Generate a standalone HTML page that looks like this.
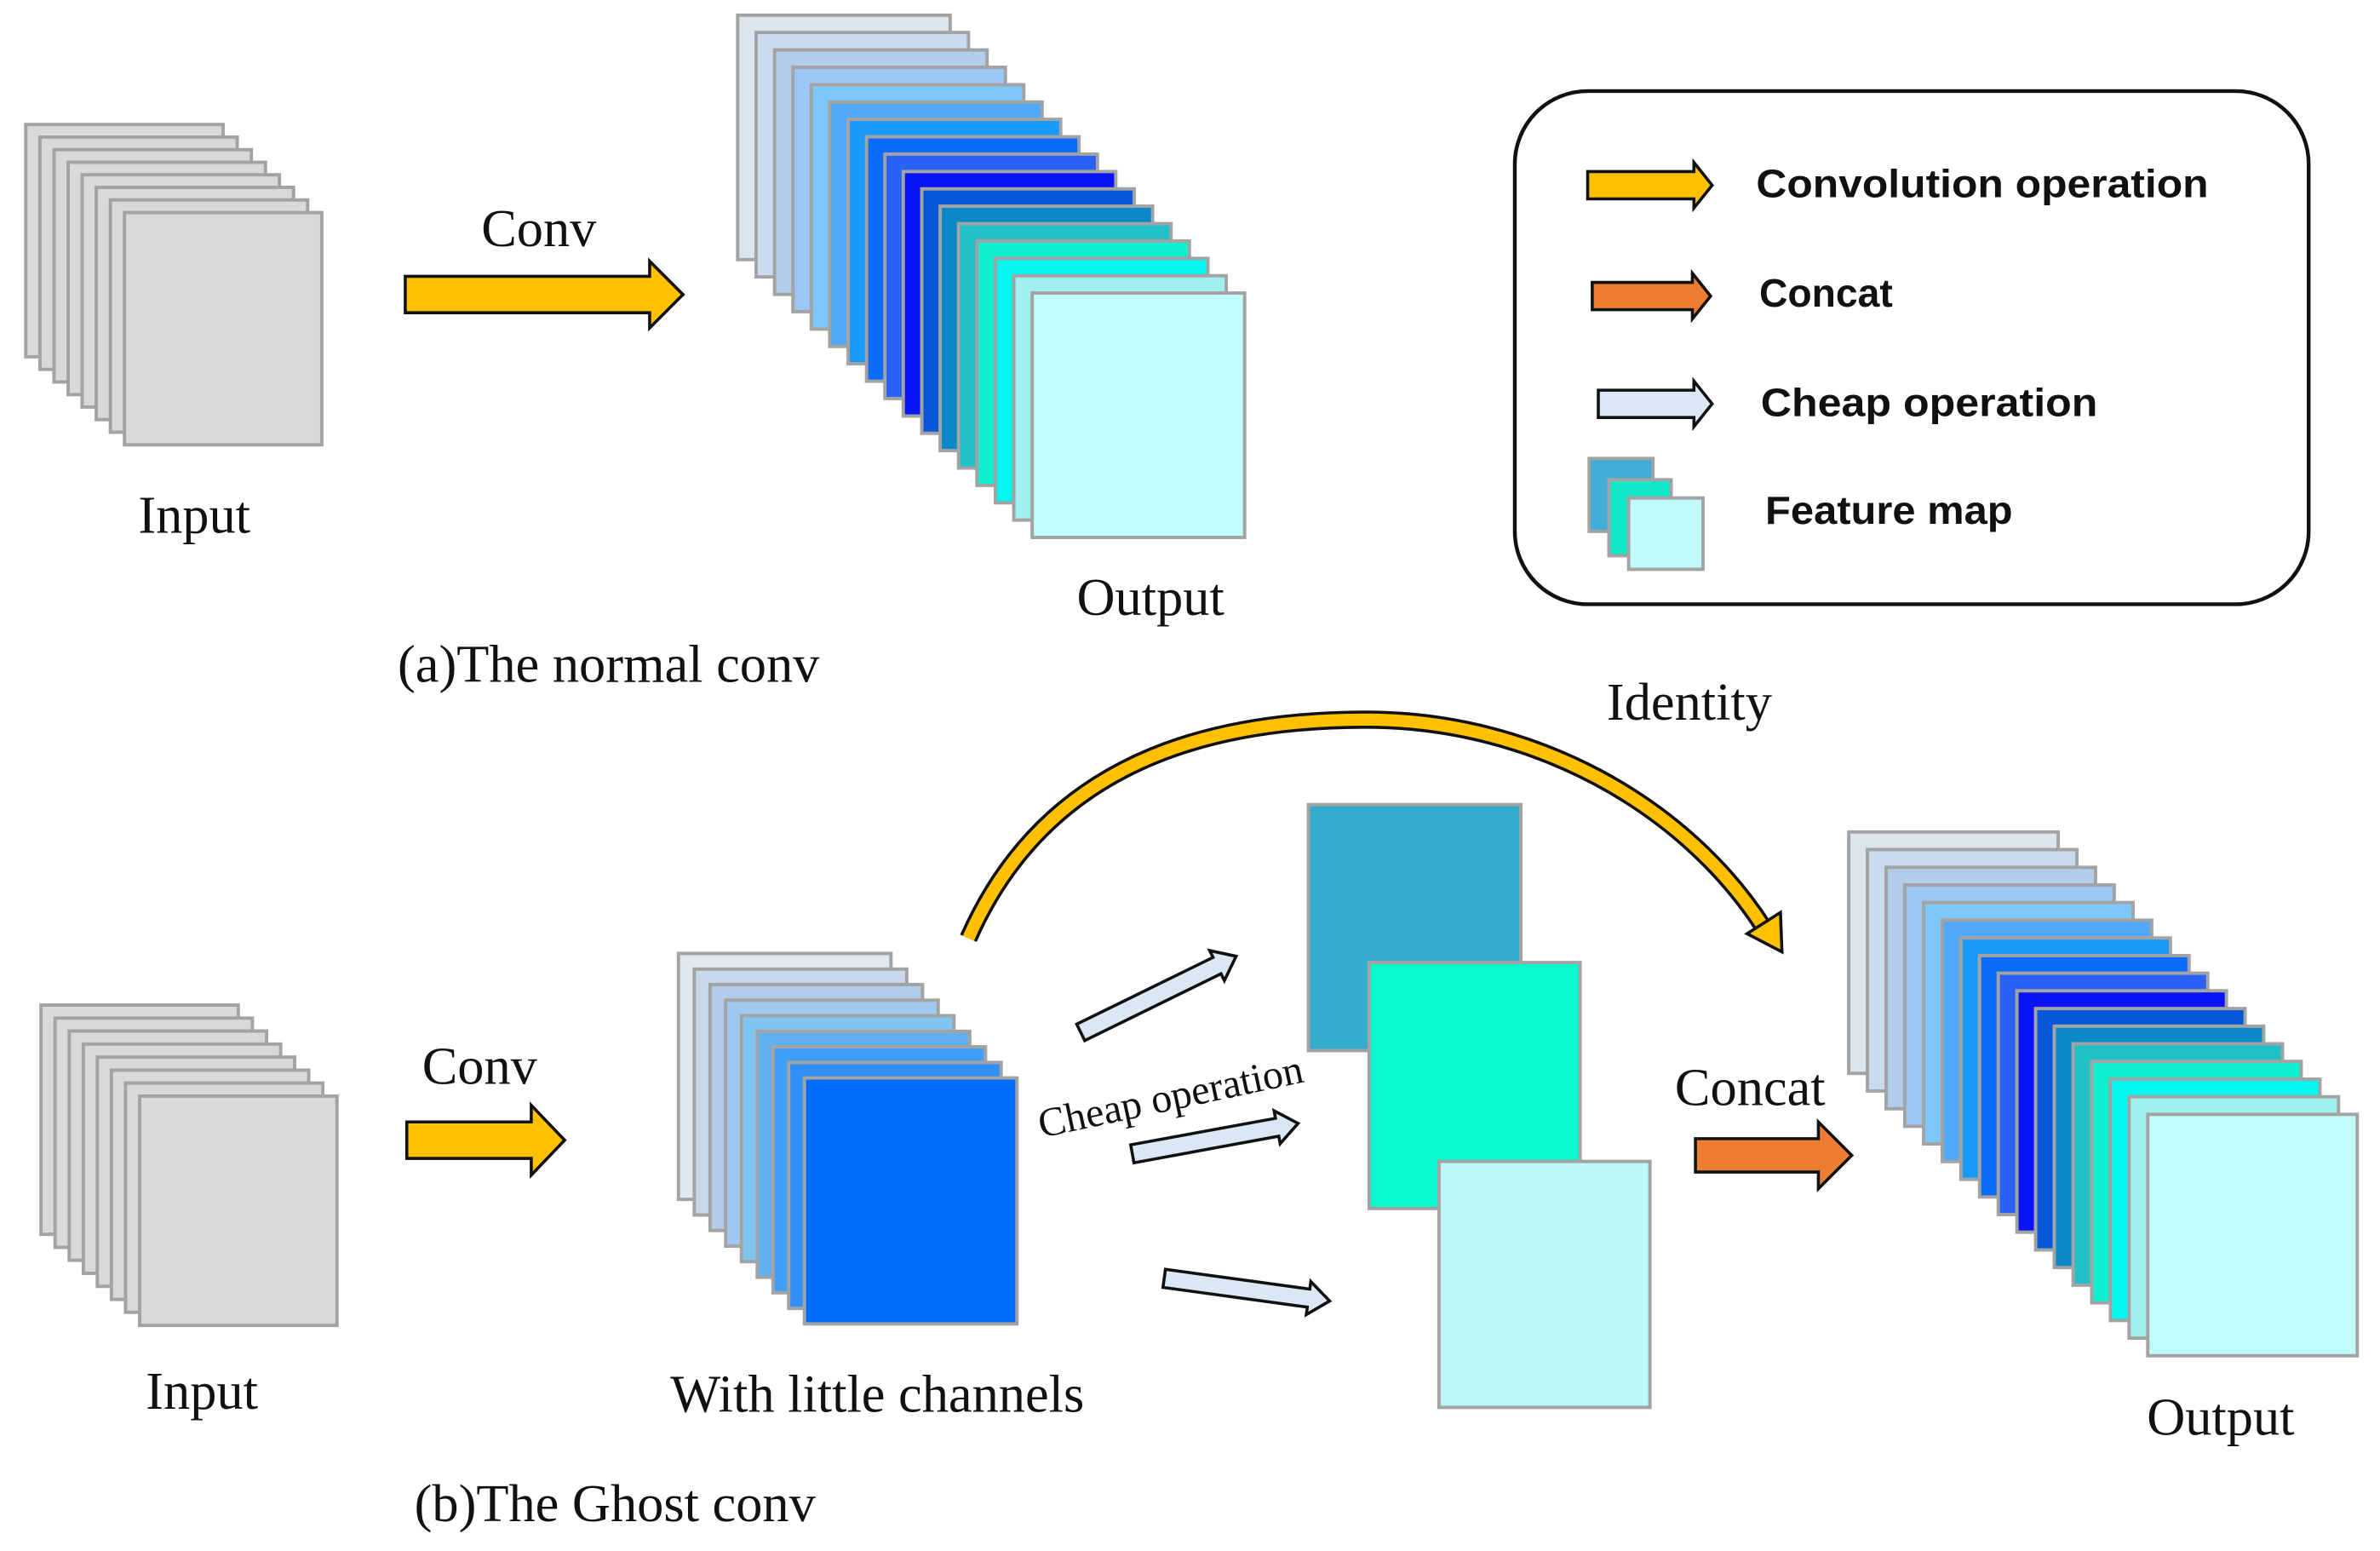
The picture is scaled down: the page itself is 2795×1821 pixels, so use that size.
<!DOCTYPE html>
<html><head><meta charset="utf-8"><style>
html,body{margin:0;padding:0;background:#fff;}
svg{display:block;}
.p{stroke:#a3a3a3;stroke-width:2.2;}
.s{font-family:"Liberation Serif",serif;font-size:35px;fill:#111;}
.l{font-family:"Liberation Sans Narrow","Liberation Sans",sans-serif;font-weight:bold;font-size:26px;fill:#111;}
.a{stroke:#111;stroke-width:2;stroke-linejoin:miter;}
</style></head><body>
<svg width="2795" height="1821" viewBox="0 0 1568 1021.6" preserveAspectRatio="none" xmlns="http://www.w3.org/2000/svg">
<!-- top input -->
<g fill="#d9d9d9" class="p">
<rect x="17" y="82" width="130" height="153"/>
<rect x="26.3" y="90.3" width="130" height="153"/>
<rect x="35.6" y="98.6" width="130" height="153"/>
<rect x="44.9" y="106.9" width="130" height="153"/>
<rect x="54.1" y="115.1" width="130" height="153"/>
<rect x="63.4" y="123.4" width="130" height="153"/>
<rect x="72.7" y="131.7" width="130" height="153"/>
<rect x="82" y="140" width="130" height="153"/>
</g>
<text class="s" x="128" y="351" text-anchor="middle">Input</text>
<polygon class="a" fill="#ffc000" transform="translate(267,194)" points="0,-12 161,-12 161,-22 183,0 161,22 161,12 0,12"/>
<text class="s" x="355" y="162" text-anchor="middle">Conv</text>
<!-- top output -->
<g class="p">
<rect x="486" y="10" width="140" height="161" fill="#dde6ee"/>
<rect x="498.1" y="21.4" width="140" height="161" fill="#c9dcef"/>
<rect x="510.3" y="32.9" width="140" height="161" fill="#b2cdea"/>
<rect x="522.4" y="44.3" width="140" height="161" fill="#9cc6f5"/>
<rect x="534.5" y="55.8" width="140" height="161" fill="#7dc8f8"/>
<rect x="546.6" y="67.2" width="140" height="161" fill="#50a8f8"/>
<rect x="558.8" y="78.6" width="140" height="161" fill="#1a9af8"/>
<rect x="570.9" y="90.1" width="140" height="161" fill="#0a6cf8"/>
<rect x="583" y="101.5" width="140" height="161" fill="#2a62f8"/>
<rect x="595.1" y="113" width="140" height="161" fill="#0a14f8"/>
<rect x="607.3" y="124.4" width="140" height="161" fill="#0658d8"/>
<rect x="619.4" y="135.8" width="140" height="161" fill="#0a88c8"/>
<rect x="631.5" y="147.3" width="140" height="161" fill="#20c0c8"/>
<rect x="643.6" y="158.7" width="140" height="161" fill="#10f0d0"/>
<rect x="655.8" y="170.2" width="140" height="161" fill="#00f8f0"/>
<rect x="667.9" y="181.6" width="140" height="161" fill="#a0f0f0"/>
<rect x="680" y="193" width="140" height="161" fill="#c0fcfc"/>
</g>
<text class="s" x="758" y="405" text-anchor="middle">Output</text>
<text class="s" x="262" y="449">(a)The normal conv</text>
<!-- legend -->
<rect x="998" y="60" width="523" height="338" rx="48" fill="#fff" stroke="#111" stroke-width="2.5"/>
<polygon class="a" fill="#ffc000" transform="translate(1046,122)" points="0,-9 70,-9 70,-15 82,0 70,15 70,9 0,9"/>
<polygon class="a" fill="#ed7d31" transform="translate(1049,195)" points="0,-9 66,-9 66,-15 78,0 66,15 66,9 0,9"/>
<polygon class="a" fill="#dae8f5" transform="translate(1053,266)" points="0,-9 63,-9 63,-15 75,0 63,15 63,9 0,9"/>
<text class="l" x="1157" y="130" textLength="298" lengthAdjust="spacingAndGlyphs">Convolution  operation</text>
<text class="l" x="1159" y="202" textLength="88" lengthAdjust="spacingAndGlyphs">Concat</text>
<text class="l" x="1160" y="274" textLength="222" lengthAdjust="spacingAndGlyphs">Cheap  operation</text>
<text class="l" x="1163" y="345" textLength="163" lengthAdjust="spacingAndGlyphs">Feature map</text>
<g class="p">
<rect x="1047" y="302" width="42" height="48" fill="#40acd8"/>
<rect x="1060" y="316" width="41" height="50" fill="#10e8c8"/>
<rect x="1073" y="328" width="49" height="47" fill="#c0fafa"/>
</g>
<!-- bottom input -->
<g fill="#d9d9d9" class="p">
<rect x="27" y="662" width="130" height="151"/>
<rect x="36.3" y="670.6" width="130" height="151"/>
<rect x="45.6" y="679.1" width="130" height="151"/>
<rect x="54.9" y="687.7" width="130" height="151"/>
<rect x="64.1" y="696.3" width="130" height="151"/>
<rect x="73.4" y="704.9" width="130" height="151"/>
<rect x="82.7" y="713.4" width="130" height="151"/>
<rect x="92" y="722" width="130" height="151"/>
</g>
<text class="s" x="133" y="928" text-anchor="middle">Input</text>
<polygon class="a" fill="#ffc000" transform="translate(268,751)" points="0,-12 82,-12 82,-23 104,0 82,23 82,12 0,12"/>
<text class="s" x="316" y="714" text-anchor="middle">Conv</text>
<!-- little channels -->
<g class="p">
<rect x="447" y="628" width="140" height="162" fill="#e0e8f0"/>
<rect x="457.4" y="638.3" width="140" height="162" fill="#c8d8ea"/>
<rect x="467.8" y="648.5" width="140" height="162" fill="#b0cce8"/>
<rect x="478.1" y="658.8" width="140" height="162" fill="#a0c8f0"/>
<rect x="488.5" y="669" width="140" height="162" fill="#80c4f0"/>
<rect x="498.9" y="679.3" width="140" height="162" fill="#60b0f0"/>
<rect x="509.3" y="689.5" width="140" height="162" fill="#40a0f8"/>
<rect x="519.6" y="699.8" width="140" height="162" fill="#3090f8"/>
<rect x="530" y="710" width="140" height="162" fill="#006cfc"/>
</g>
<text class="s" x="578" y="930" text-anchor="middle">With little channels</text>
<!-- identity arc -->
<path d="M638,618 C690,500 800,474 900,474 C1010,474 1110,530 1162,611" fill="none" stroke="#111" stroke-width="12"/>
<path d="M638,618 C690,500 800,474 900,474 C1010,474 1110,530 1162,611" fill="none" stroke="#ffc000" stroke-width="8"/>
<polygon class="a" fill="#ffc000" points="1174,627 1173,601 1151,615"/>
<text class="s" x="1113" y="474" text-anchor="middle">Identity</text>
<!-- ghost maps -->
<g class="p">
<rect x="862" y="530" width="140" height="162" fill="#33accf"/>
<rect x="902" y="634" width="139" height="162" fill="#08f8d0"/>
<rect x="948" y="765" width="139" height="162" fill="#bcf8f8"/>
</g>
<!-- cheap arrows -->
<polygon class="a" fill="#dae8f5" transform="translate(712,680) rotate(-26.1)" points="0,-6 100,-6 100,-11 114,0 100,11 100,6 0,6"/>
<polygon class="a" fill="#dae8f5" transform="translate(746,760) rotate(-10.4)" points="0,-6 97,-6 97,-11 111,0 97,11 97,6 0,6"/>
<polygon class="a" fill="#dae8f5" transform="translate(767,842) rotate(7.8)" points="0,-6 96,-6 96,-11 110,0 96,11 96,6 0,6"/>
<text class="s" style="font-size:27px" transform="translate(773,731) rotate(-12)" text-anchor="middle">Cheap operation</text>
<!-- concat -->
<polygon class="a" fill="#ed7d31" transform="translate(1117,761)" points="0,-11 81,-11 81,-22 103,0 81,22 81,11 0,11"/>
<text class="s" x="1153" y="728" text-anchor="middle">Concat</text>
<!-- bottom output -->
<g class="p">
<rect x="1218" y="548" width="138" height="159" fill="#dde6ee"/>
<rect x="1230.3" y="559.6" width="138" height="159" fill="#c9dcef"/>
<rect x="1242.6" y="571.3" width="138" height="159" fill="#b2cdea"/>
<rect x="1254.9" y="582.9" width="138" height="159" fill="#9cc6f5"/>
<rect x="1267.3" y="594.5" width="138" height="159" fill="#7dc8f8"/>
<rect x="1279.6" y="606.1" width="138" height="159" fill="#50a8f8"/>
<rect x="1291.9" y="617.8" width="138" height="159" fill="#1a9af8"/>
<rect x="1304.2" y="629.4" width="138" height="159" fill="#0a6cf8"/>
<rect x="1316.5" y="641" width="138" height="159" fill="#2a62f8"/>
<rect x="1328.8" y="652.6" width="138" height="159" fill="#0a14f8"/>
<rect x="1341.1" y="664.3" width="138" height="159" fill="#0658d8"/>
<rect x="1353.4" y="675.9" width="138" height="159" fill="#0a88c8"/>
<rect x="1365.8" y="687.5" width="138" height="159" fill="#20c0c8"/>
<rect x="1378.1" y="699.1" width="138" height="159" fill="#10f0d0"/>
<rect x="1390.4" y="710.8" width="138" height="159" fill="#00f8f0"/>
<rect x="1402.7" y="722.4" width="138" height="159" fill="#a0f0f0"/>
<rect x="1415" y="734" width="138" height="159" fill="#c0fcfc"/>
</g>
<text class="s" x="1463" y="945" text-anchor="middle">Output</text>
<text class="s" x="273" y="1002">(b)The Ghost conv</text>
</svg>
</body></html>
